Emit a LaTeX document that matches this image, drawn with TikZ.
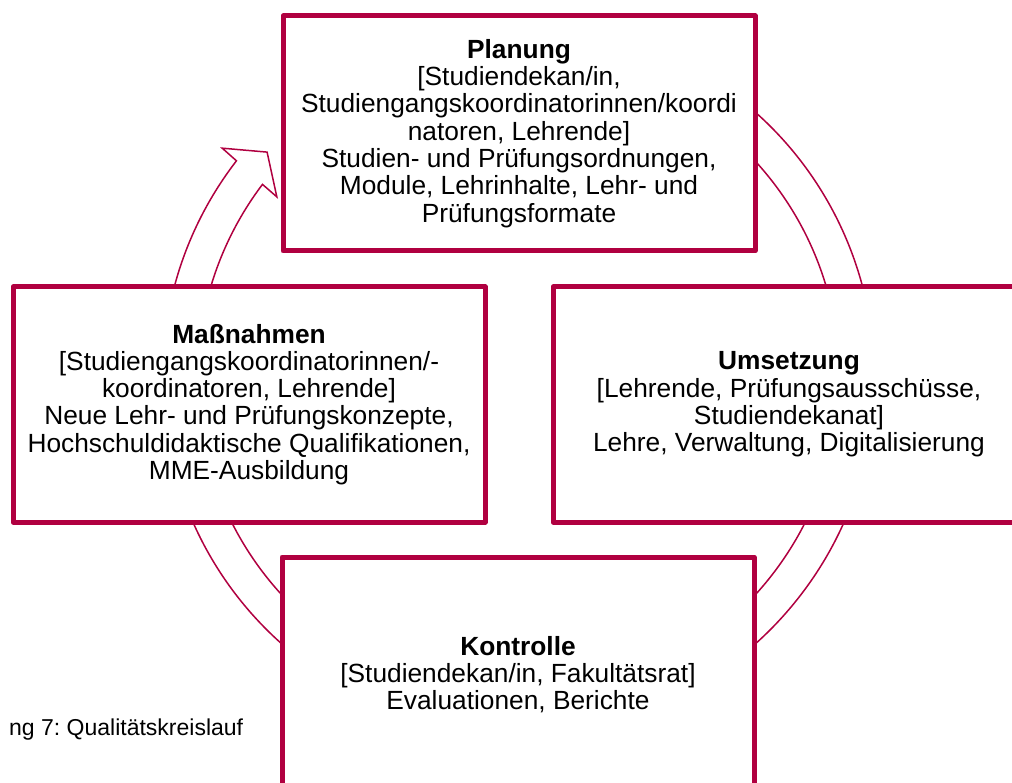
\documentclass[tikz,border=0pt]{standalone}
\usepackage{fontspec}
\setmainfont{Liberation Sans}
\usetikzlibrary{calc}
\definecolor{kreisrot}{RGB}{176,0,64}
\frenchspacing

\begin{document}
\begin{tikzpicture}[x=1pt,y=1pt,
    phase/.style={draw=kreisrot, line width=5pt, line join=round, fill=white, minimum width=472pt, minimum height=235pt, align=center, font=\fontsize{26.3}{27.3}\selectfont},
    ring/.style={draw=kreisrot, line width=1.5pt, fill=white}]
    \useasboundingbox (0,0) rectangle (1012,-783);
    \clip (0,0) rectangle (1012,-783);

    % centre of the cycle
    \coordinate (m) at (518.5,-378);

    \draw[ring] ($(m)+(142.4:356pt)$) arc[start angle=142.4, end angle=460, radius=356pt]
        -- ($(m)+(460:321pt)$) arc[start angle=460, end angle=142.9, radius=321pt]
        -- ($(m)+(143.15:302pt)$) -- ($(m)+(138.06:338pt)$) -- ($(m)+(142.2:375pt)$) -- cycle;

    \node (b1) at (519,-133.5) [phase] {\textbf{Planung}\\{}[Studiendekan/in,\\Studiengangskoordinatorinnen/koordi\\natoren, Lehrende]\\Studien- und Prüfungsordnungen,\\Module, Lehrinhalte, Lehr- und\\Prüfungsformate};
    \node (b2) at (789,-404.5) [phase] {\textbf{Umsetzung}\\{}[Lehrende, Prüfungsausschüsse,\\Studiendekanat]\\Lehre, Verwaltung, Digitalisierung};
    \node (b3) at (518,-674.5) [phase] {\textbf{Kontrolle}\\{}[Studiendekan/in, Fakultätsrat]\\Evaluationen, Berichte};
    \node (b4) at (249,-404.5) [phase] {\textbf{Maßnahmen}\\{}[Studiengangskoordinatorinnen/-\\koordinatoren, Lehrende]\\Neue Lehr- und Prüfungskonzepte,\\Hochschuldidaktische Qualifikationen,\\MME-Ausbildung};

    \node (l1) at (9,-735) [anchor=base west, inner sep=0pt, font=\fontsize{23}{26}\selectfont] {ng 7: Qualitätskreislauf};
\end{tikzpicture}
\end{document}
